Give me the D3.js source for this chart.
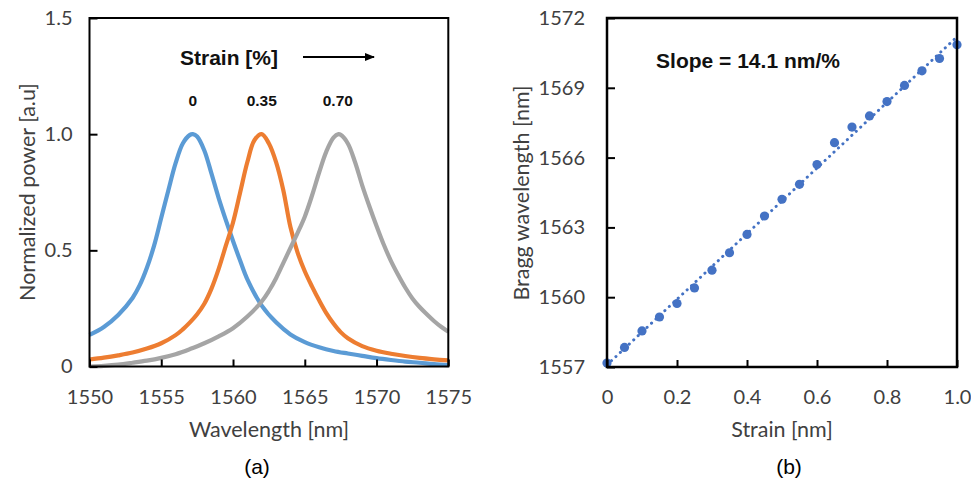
<!DOCTYPE html>
<html><head><meta charset="utf-8">
<script src="https://cdn.jsdelivr.net/npm/d3@7"></script>
<style>body{margin:0;background:#fff}</style>
</head><body>
<svg id="c" width="971" height="479"></svg>
<script>
// ---------- Panel (a) data : normalized spectra ----------
const blueWavelength = [1550,1551,1552,1553,1553.5,1554,1554.5,1555,1555.5,1556,1556.5,1557,1557.2,1557.5,1558,1558.5,1559,1559.5,1560,1560.5,1561,1562,1563,1564,1565,1566,1567,1568,1569,1570,1571,1572,1573,1574,1575];
const bluePower      = [0.136,0.17,0.222,0.295,0.35,0.425,0.52,0.64,0.76,0.875,0.96,0.997,1.0,0.99,0.93,0.83,0.725,0.63,0.54,0.455,0.375,0.262,0.19,0.138,0.105,0.083,0.067,0.056,0.046,0.036,0.028,0.021,0.016,0.01,0.006];

const orangeWavelength = [1550,1551,1552,1553,1554,1555,1556,1556.5,1557,1557.5,1558,1558.5,1559,1559.5,1560,1560.5,1561,1561.5,1562,1562.5,1563,1563.5,1564,1564.5,1565,1565.5,1566,1566.5,1567,1567.5,1568,1569,1570,1571,1572,1573,1574,1575];
const orangePower      = [0.03,0.038,0.048,0.06,0.077,0.1,0.135,0.16,0.19,0.225,0.27,0.335,0.42,0.52,0.62,0.75,0.88,0.975,1.0,0.96,0.88,0.76,0.6,0.49,0.41,0.345,0.285,0.23,0.185,0.148,0.122,0.088,0.068,0.055,0.045,0.037,0.031,0.026];

const grayWavelength = [1550,1551,1552,1553,1554,1555,1556,1557,1558,1559,1560,1561,1562,1562.5,1563,1563.5,1564,1564.5,1565,1565.5,1566,1566.5,1567,1567.35,1567.5,1568,1568.5,1569,1569.5,1570,1570.5,1571,1571.5,1572,1572.5,1573,1573.5,1574,1574.5,1575];
const grayPower      = [0.0,0.003,0.008,0.016,0.025,0.037,0.053,0.075,0.1,0.13,0.165,0.215,0.28,0.325,0.38,0.445,0.51,0.575,0.645,0.735,0.835,0.925,0.985,1.0,0.997,0.96,0.88,0.78,0.69,0.605,0.525,0.455,0.395,0.34,0.293,0.256,0.225,0.196,0.171,0.15];

const strainLabelValues = ["0", "0.35", "0.70"];
const strainLabelAt = [1557.2, 1562.0, 1567.3];

const aXTicks = [1550,1555,1560,1565,1570,1575];
const aYTicks = [0,0.5,1.0,1.5];
const aYTickLabels = ["0","0.5","1.0","1.5"];

// ---------- Panel (b) data : Bragg wavelength vs strain ----------
const strain = [0,0.05,0.1,0.15,0.2,0.25,0.3,0.35,0.4,0.45,0.5,0.55,0.6,0.65,0.7,0.75,0.8,0.85,0.9,0.95,1.0];
const braggWavelength = [1557.17,1557.84,1558.55,1559.15,1559.73,1560.40,1561.16,1561.91,1562.70,1563.49,1564.21,1564.85,1565.70,1566.64,1567.31,1567.79,1568.41,1569.10,1569.73,1570.26,1570.85];

const bXTicks = [0,0.2,0.4,0.6,0.8,1.0];
const bXTickLabels = ["0","0.2","0.4","0.6","0.8","1.0"];
const bYTicks = [1557,1560,1563,1566,1569,1572];

// ---------- drawing ----------
const svg = d3.select("#c");
const tickFont = "Lato, 'Open Sans', sans-serif";
const boldFont = "'Liberation Sans', Arial, sans-serif";
const textCol = "#404040";

function styleAxis(g, size){
  g.select(".domain").remove();
  g.selectAll(".tick line").attr("stroke","#000").attr("stroke-width",2);
  g.selectAll(".tick text").attr("fill",textCol).style("font-family",tickFont).style("font-size",size+"px");
}

// Panel (a)
const ax = d3.scaleLinear().domain([1550,1575]).range([89.5,448.3]);
const ay = d3.scaleLinear().domain([0,1.5]).range([366.5,18]);
const ga = svg.append("g");

const series = [
  {w: blueWavelength, p: bluePower, c: "#5B9BD5"},
  {w: orangeWavelength, p: orangePower, c: "#ED7D31"},
  {w: grayWavelength, p: grayPower, c: "#A5A5A5"}
];
const lineA = d3.line().x(d=>ax(d[0])).y(d=>ay(d[1])).curve(d3.curveCatmullRom.alpha(0.5));
series.forEach(s=>{
  ga.append("path").datum(s.w.map((w,i)=>[w,s.p[i]]))
    .attr("d",lineA).attr("fill","none").attr("stroke",s.c)
    .attr("stroke-width",4.2).attr("stroke-linejoin","round").attr("stroke-linecap","butt");
});

ga.append("g").attr("transform","translate(0,366.5)")
  .call(d3.axisBottom(ax).tickValues(aXTicks).tickFormat(d3.format("d")).tickSize(-7).tickPadding(23))
  .call(g=>styleAxis(g,20));
ga.append("g").attr("transform","translate(89.5,0)")
  .call(d3.axisLeft(ay).tickValues(aYTicks).tickFormat((d,i)=>aYTickLabels[i]).tickSize(-8).tickPadding(17))
  .call(g=>styleAxis(g,20));
ga.append("rect").attr("x",ax(1550)).attr("y",ay(1.5)).attr("width",ax(1575)-ax(1550)).attr("height",ay(0)-ay(1.5))
  .attr("fill","none").attr("stroke","#000").attr("stroke-width",2);

ga.append("text").attr("x",269).attr("y",437).attr("text-anchor","middle").attr("fill",textCol)
  .style("font-family",tickFont).style("font-size","21.5px").text("Wavelength [nm]");
ga.append("text").attr("transform","translate(35,192) rotate(-90)").attr("text-anchor","middle").attr("fill",textCol)
  .style("font-family",tickFont).style("font-size","21.5px").text("Normalized power [a.u]");
ga.append("text").attr("x",257).attr("y",474).attr("text-anchor","middle").attr("fill","#000")
  .style("font-family",boldFont).style("font-size","21px").text("(a)");

ga.append("text").attr("x",229).attr("y",65).attr("text-anchor","middle").attr("fill","#111")
  .style("font-family",boldFont).style("font-weight","bold").style("font-size","21px").text("Strain [%]");
svg.append("defs").append("marker").attr("id","arr").attr("viewBox","0 0 10 10").attr("refX",9).attr("refY",5)
  .attr("markerWidth",5).attr("markerHeight",5).attr("orient","auto")
  .append("path").attr("d","M0,1 L10,5 L0,9 Z").attr("fill","#000");
ga.append("line").attr("x1",303).attr("x2",374).attr("y1",57).attr("y2",57)
  .attr("stroke","#000").attr("stroke-width",2).attr("marker-end","url(#arr)");
strainLabelValues.forEach((t,i)=>{
  ga.append("text").attr("x",ax(strainLabelAt[i])).attr("y",106).attr("text-anchor","middle").attr("fill","#111")
    .style("font-family",boldFont).style("font-weight","bold").style("font-size","15.5px").text(t);
});

// Panel (b)
const bx = d3.scaleLinear().domain([0,1]).range([607,957]);
const by = d3.scaleLinear().domain([1557,1572]).range([367,18]);
const gb = svg.append("g");

// least squares trendline
const mx = d3.mean(strain), my = d3.mean(braggWavelength);
let sxy=0,sxx=0;
strain.forEach((x,i)=>{sxy+=(x-mx)*(braggWavelength[i]-my); sxx+=(x-mx)*(x-mx);});
const slope = sxy/sxx, icpt = my - slope*mx;
gb.append("line").attr("x1",bx(0)).attr("y1",by(icpt)).attr("x2",bx(1)).attr("y2",by(icpt+slope))
  .attr("stroke","#4472C4").attr("stroke-width",3).attr("stroke-linecap","round").attr("stroke-dasharray","0.1,6");

gb.selectAll("circle").data(strain).join("circle")
  .attr("cx",d=>bx(d)).attr("cy",(d,i)=>by(braggWavelength[i])).attr("r",4.6).attr("fill","#4472C4");

gb.append("g").attr("transform","translate(0,367)")
  .call(d3.axisBottom(bx).tickValues(bXTicks).tickFormat((d,i)=>bXTickLabels[i]).tickSize(-7).tickPadding(23))
  .call(g=>styleAxis(g,20));
gb.append("g").attr("transform","translate(607,0)")
  .call(d3.axisLeft(by).tickValues(bYTicks).tickFormat(d3.format("d")).tickSize(-8).tickPadding(22))
  .call(g=>styleAxis(g,20));
gb.append("rect").attr("x",bx(0)).attr("y",by(1572)).attr("width",bx(1)-bx(0)).attr("height",by(1557)-by(1572))
  .attr("fill","none").attr("stroke","#000").attr("stroke-width",2.5);

gb.append("text").attr("x",782).attr("y",437).attr("text-anchor","middle").attr("fill",textCol)
  .style("font-family",tickFont).style("font-size","21.5px").text("Strain [nm]");
gb.append("text").attr("transform","translate(529,193) rotate(-90)").attr("text-anchor","middle").attr("fill",textCol)
  .style("font-family",tickFont).style("font-size","21.5px").text("Bragg wavelength [nm]");
gb.append("text").attr("x",789).attr("y",474).attr("text-anchor","middle").attr("fill","#000")
  .style("font-family",boldFont).style("font-size","21px").text("(b)");
gb.append("text").attr("x",748).attr("y",68).attr("text-anchor","middle").attr("fill","#111")
  .style("font-family",boldFont).style("font-weight","bold").style("font-size","21px").text("Slope = 14.1 nm/%");
</script>
</body></html>
